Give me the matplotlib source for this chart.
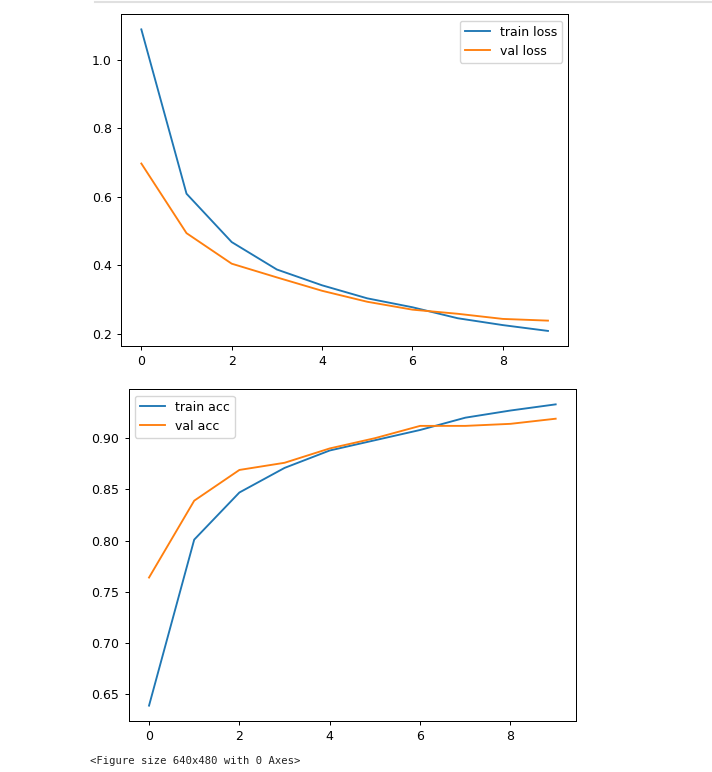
import matplotlib

matplotlib.use('Agg')

import matplotlib.pyplot as plt
from matplotlib.lines import Line2D

epochs = list(range(10))

train_loss = [1.088, 0.609, 0.468, 0.388, 0.342, 0.304, 0.278, 0.246, 0.226, 0.209]
val_loss = [0.697, 0.494, 0.405, 0.365, 0.326, 0.294, 0.271, 0.259, 0.244, 0.239]

train_acc = [0.639, 0.801, 0.847, 0.871, 0.888, 0.898, 0.908, 0.920, 0.927, 0.933]
val_acc = [0.764, 0.839, 0.869, 0.876, 0.890, 0.900, 0.912, 0.912, 0.914, 0.919]

W, H = 712, 772
s = 0.9  # notebook shows the figures a bit smaller than dpi 100

plt.rcParams['font.size'] = 10 * s
plt.rcParams['lines.linewidth'] = 1.5 * s
plt.rcParams['axes.linewidth'] = 0.8 * s
plt.rcParams['xtick.major.size'] = 3.5 * s
plt.rcParams['ytick.major.size'] = 3.5 * s
plt.rcParams['xtick.major.width'] = 0.8 * s
plt.rcParams['ytick.major.width'] = 0.8 * s

fig = plt.figure(figsize=(W / 100, H / 100), dpi=100)


def px_axes(left, top, right, bottom):
    return fig.add_axes([left / W, 1 - bottom / H, (right - left) / W, (bottom - top) / H])


ax1 = px_axes(121, 14.3, 568.3, 346)
ax1.plot(epochs, train_loss, label="train loss")
ax1.plot(epochs, val_loss, label="val loss")
ax1.set_xticks([0, 2, 4, 6, 8])
ax1.set_yticks([0.2, 0.4, 0.6, 0.8, 1.0])
ax1.legend(loc="upper right")

ax2 = px_axes(128.7, 389.3, 576, 720.7)
ax2.plot(epochs, train_acc, label="train acc")
ax2.plot(epochs, val_acc, label="val acc")
ax2.set_xticks([0, 2, 4, 6, 8])
ax2.set_yticks([0.65, 0.70, 0.75, 0.80, 0.85, 0.90])
ax2.legend(loc="upper left")

# notebook cell border and the stray output line
fig.add_artist(Line2D([95 / W, 1], [1 - 1.5 / H, 1 - 1.5 / H], color="#e0e0e0", lw=1.5))
fig.text(90 / W, 1 - 761 / H, "<Figure size 640x480 with 0 Axes>",
         family="DejaVu Sans Mono", fontsize=7.6, va="center", ha="left", color="#222222")

fig.savefig("out.png", dpi=100)
